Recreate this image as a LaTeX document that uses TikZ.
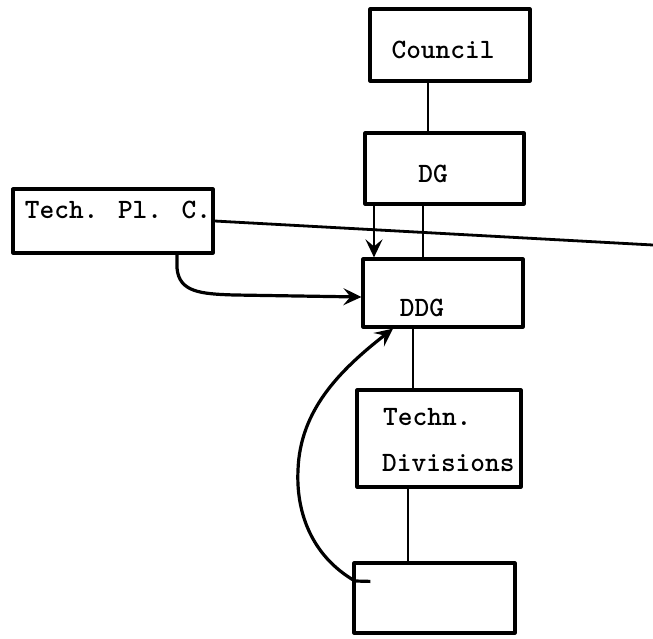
\documentclass[tikz,border=0pt]{standalone}
\usepackage{fontspec}
\usetikzlibrary{arrows.meta}
\tikzset{
  box/.style={draw, line width=3.2pt, inner sep=0pt, line join=round},
  lbl/.style={font=\ttfamily\bfseries\fontsize{28}{34}\selectfont, inner sep=0pt},
  conn/.style={line width=2.4pt},
  arr/.style={line width=3.2pt, -{Stealth[length=9pt,width=8.5pt,inset=3.5pt,scale=2]}},
}
\begin{document}
\begin{tikzpicture}[x=1pt,y=-1pt]
\useasboundingbox (0,0) rectangle (653,638);
% boxes
\node[box, minimum width=160pt, minimum height=72pt] (council) at (450,45) {};
\node[box, minimum width=159pt, minimum height=71pt] (dg) at (444.5,168.5) {};
\node[box, minimum width=200pt, minimum height=64pt] (tpc) at (113,221) {};
\node[box, minimum width=160pt, minimum height=68pt] (ddg) at (443,293) {};
\node[box, minimum width=164pt, minimum height=97pt] (tdiv) at (439,438.5) {};
\node[box, minimum width=161pt, minimum height=70pt] (bot) at (434.5,598) {};
% labels
\node[lbl] (tcouncil) at (443,50) {Council};
\node[lbl] (tdg) at (433,174) {DG};
\node[lbl] (ttpc) at (118,210) {Tech. Pl. C.};
\node[lbl] (tddg) at (422,308) {DDG};
\node[lbl, anchor=west] (ttechn) at (383,417) {Techn.};
\node[lbl, anchor=west] (tdivs) at (382,463) {Divisions};
% helper coordinates
\coordinate (x1) at (428,0);
\coordinate (x2) at (374,0);
\coordinate (x3) at (423,0);
\coordinate (x4) at (413,0);
\coordinate (x5) at (408,0);
\coordinate (x6) at (177,0);
\coordinate (rend) at (653,245);
% connectors
\draw[conn] (x1 |- council.south) -- (x1 |- dg.north);
\draw[arr, line width=2.6pt] (x2 |- dg.south) -- (x2 |- ddg.north);
\draw[conn] (x3 |- dg.south) -- (x3 |- ddg.north);
\draw[conn, line width=2.8pt] (tpc.east) -- (rend);
\draw[conn] (x4 |- ddg.south) -- (x4 |- tdiv.north);
\draw[conn] (x5 |- tdiv.south) -- (x5 |- bot.north);
\draw[arr] (x6 |- tpc.south) -- (177,268) .. controls (179,292) and (200,294) .. (235,295) -- ([yshift=-4pt]ddg.west);
\draw[arr] ([shift={(18,20)}]bot.north west) -- (355,581) .. controls (310,555) and (296,510) .. (298,470) .. controls (300,410) and (340,370) .. ([xshift=-50pt]ddg.south);
\end{tikzpicture}
\end{document}
